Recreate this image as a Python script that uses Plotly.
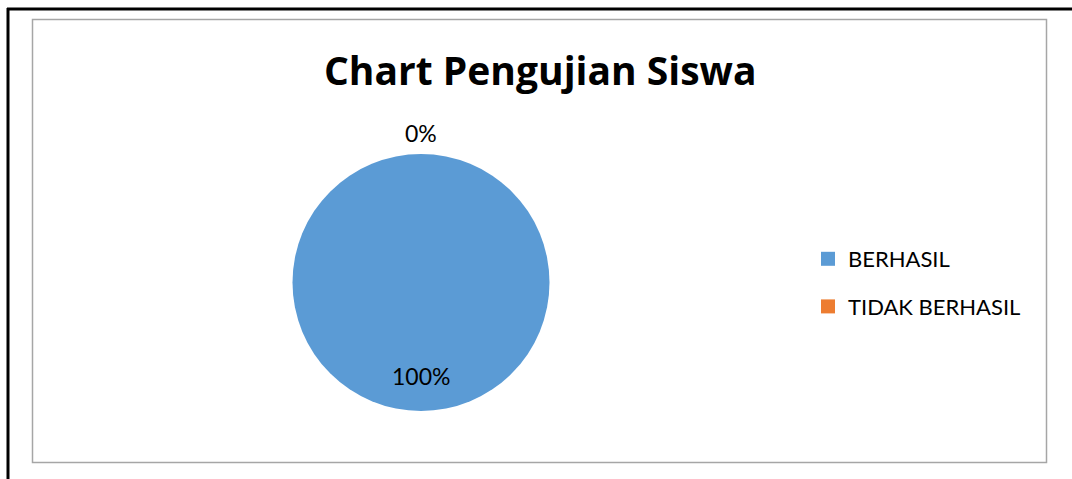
import plotly.graph_objects as go

title_text = "Chart Pengujian Siswa"
categories = ["BERHASIL", "TIDAK BERHASIL"]
values = [100, 0]
colors = ["#5B9BD5", "#ED7D31"]

W, H = 1072, 479
total = sum(values)
percents = [f"{v / total * 100:.0f}%" for v in values]

fig = go.Figure()
fig.add_trace(go.Pie(
    labels=categories, values=values, sort=False, direction="clockwise",
    marker=dict(colors=colors, line=dict(width=0)),
    textinfo="none", hoverinfo="label+percent", showlegend=False,
    domain=dict(x=[292 / W, 550 / W], y=[1 - 411 / H, 1 - 154 / H]),
))

# legend entries
for cat, col in zip(categories, colors):
    fig.add_trace(go.Scatter(
        x=[None], y=[None], mode="markers", name=cat, legendgroup=cat,
        marker=dict(symbol="square", size=14, color=col),
    ))

font_fam = "Lato, 'Open Sans', sans-serif"
title_fam = "'Open Sans', Lato, sans-serif"

# percent labels: first (BERHASIL) inside lower, second (TIDAK) outside top
label_pos = [(421 / W, 1 - 376 / H), (421 / W, 1 - 133 / H)]
annotations = [
    dict(text=f"<b>{title_text}</b>", x=539.5 / W, y=1 - 70 / H, xref="paper", yref="paper",
         showarrow=False, xanchor="center", yanchor="middle",
         font=dict(family=title_fam, size=39, color="#000000")),
]
for p, (px, py) in zip(percents, label_pos):
    annotations.append(dict(text=p, x=px, y=py, xref="paper", yref="paper",
                            showarrow=False, xanchor="center", yanchor="middle",
                            font=dict(family=font_fam, size=23, color="#000000")))

shapes = [
    # outer black frame (top and left edges)
    dict(type="line", xref="paper", yref="paper", x0=7 / W, x1=1.0, y0=1 - 9 / H, y1=1 - 9 / H,
         line=dict(color="#000000", width=3)),
    dict(type="line", xref="paper", yref="paper", x0=8 / W, x1=8 / W, y0=0, y1=1 - 8 / H,
         line=dict(color="#000000", width=3)),
    # inner grey chart border
    dict(type="rect", xref="paper", yref="paper", x0=32.5 / W, x1=1046.5 / W,
         y0=1 - 462.5 / H, y1=1 - 19.5 / H, line=dict(color="#A6A6A6", width=1.5)),
]

fig.update_layout(
    width=W, height=H,
    margin=dict(l=0, r=0, t=0, b=0),
    paper_bgcolor="#FFFFFF", plot_bgcolor="#FFFFFF",
    xaxis=dict(visible=False), yaxis=dict(visible=False),
    annotations=annotations, shapes=shapes,
    showlegend=True,
    legend=dict(x=808 / W, y=1 - 238 / H, xanchor="left", yanchor="top",
                font=dict(family=font_fam, size=22, color="#000000"),
                tracegroupgap=16, itemwidth=30, bgcolor="rgba(0,0,0,0)"),
)

fig.write_html("out.html", config={"displayModeBar": False},
               post_script="document.body.style.margin='0';")
